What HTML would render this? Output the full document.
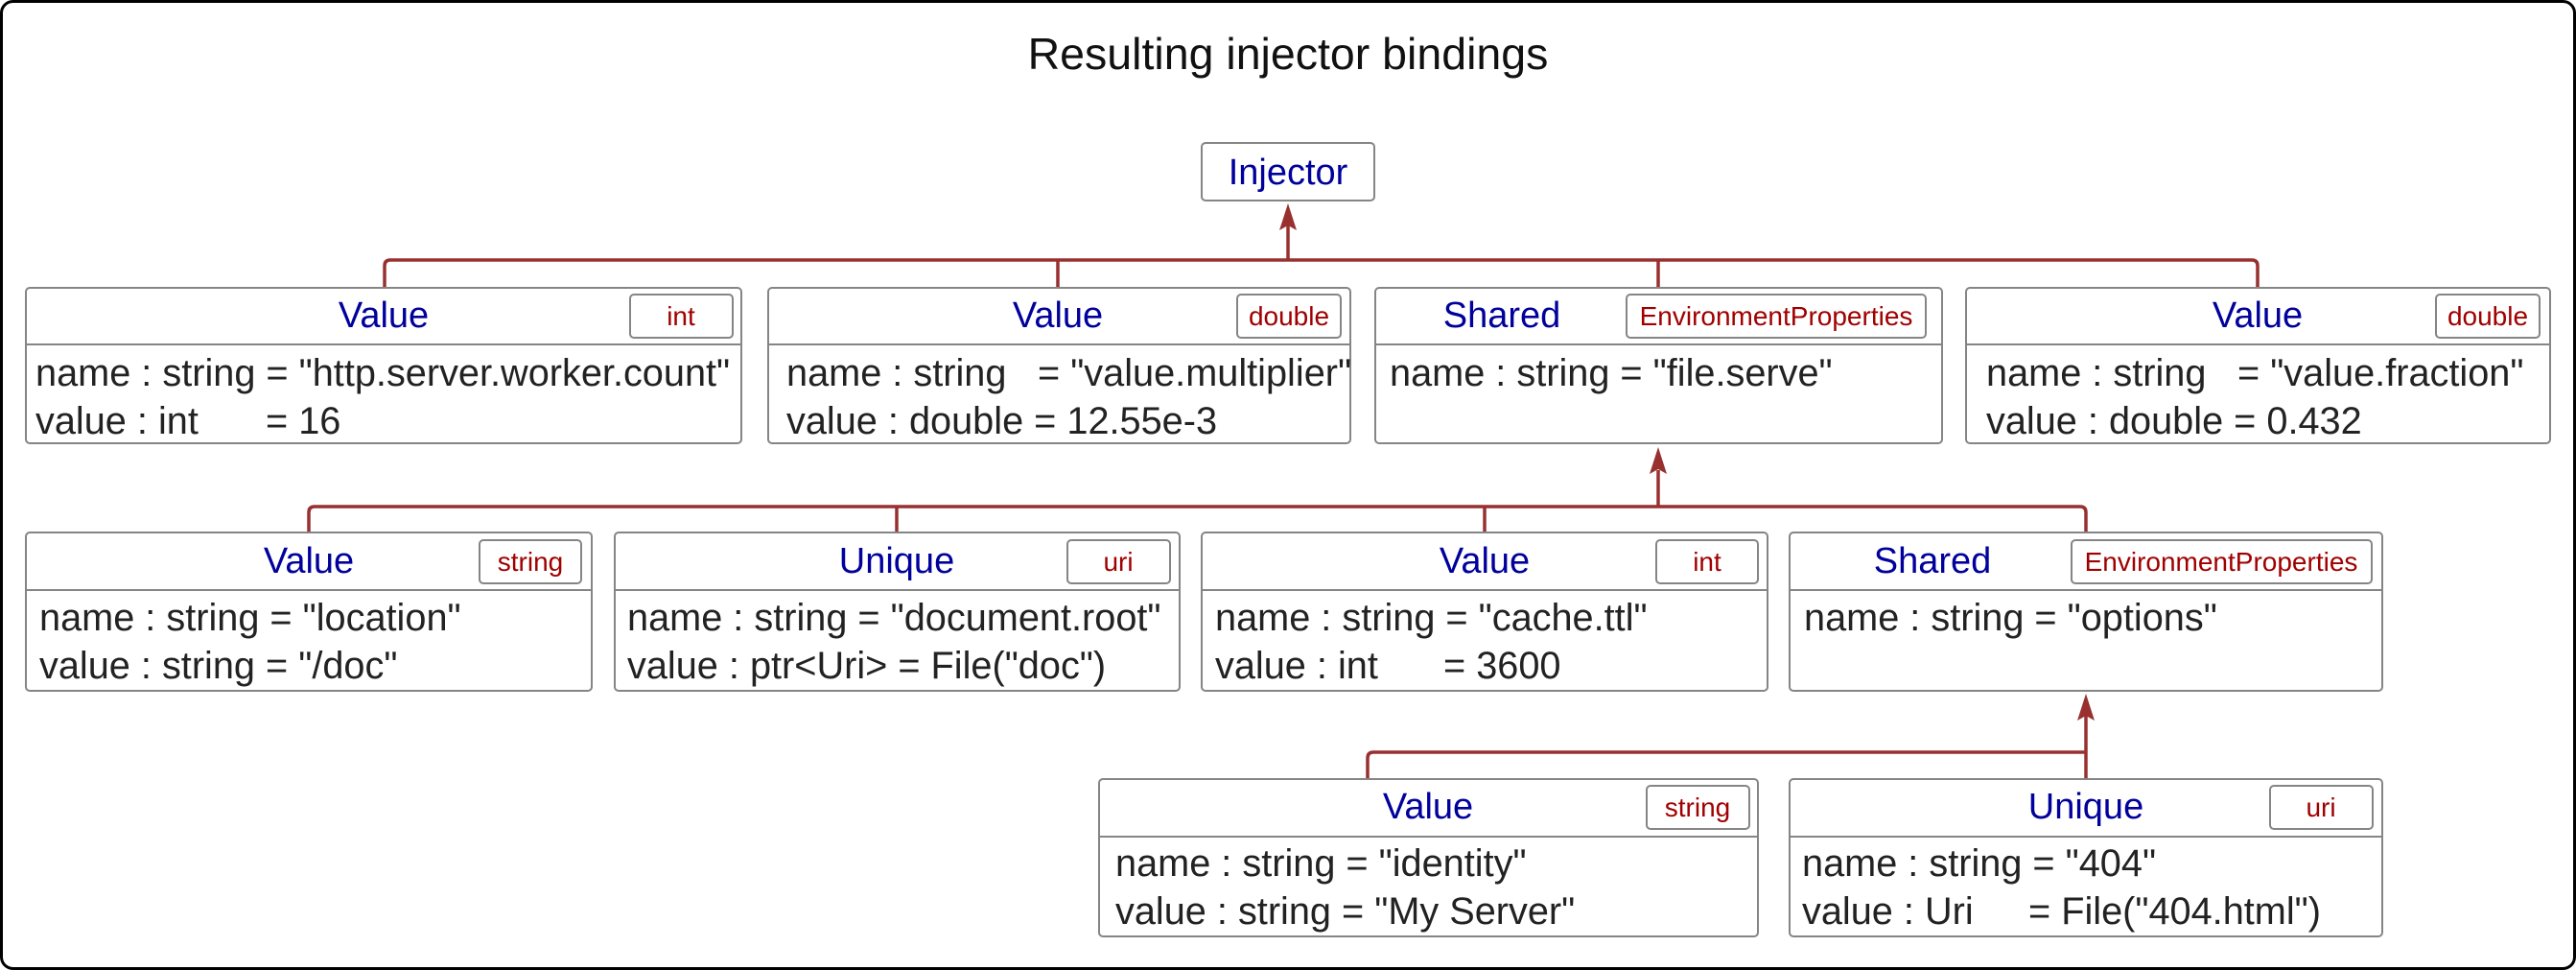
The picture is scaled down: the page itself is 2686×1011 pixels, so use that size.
<!DOCTYPE html>
<html><head><meta charset="utf-8"><style>
html,body{margin:0;padding:0;background:#fff;}
svg{display:block;}
text{font-family:"Liberation Sans",sans-serif;white-space:pre;}
.t{font-size:38px;fill:#00009c;text-anchor:middle;}
.g{font-size:28px;fill:#a00000;text-anchor:middle;}
.a{font-size:39.7px;fill:#222;}
.b{fill:#fff;stroke:#858585;stroke-width:2;}
.c{fill:none;stroke:#993030;stroke-width:3.5;}
</style></head><body>
<svg width="2686" height="1011" viewBox="0 0 2686 1011" xmlns="http://www.w3.org/2000/svg">
<rect x="1.5" y="1.5" width="2683" height="1008" rx="12" fill="#fff" stroke="#000" stroke-width="3"/>
<text x="1343" y="72" style="font-size:46.5px;fill:#111;text-anchor:middle">Resulting injector bindings</text>

<path class="c" d="M401 300 V277 Q401 271 407 271 H2348 Q2354 271 2354 277 V300 M1103 300 V271 M1729 300 V271 M1343 271 V235"/>
<polygon points="1343,212 1334,240 1343,235 1352,240" fill="#993030"/>
<path class="c" d="M322 555 V534 Q322 528 328 528 H2169 Q2175 528 2175 534 V555 M935 555 V528 M1548 555 V528 M1729 528 V490"/>
<polygon points="1729,466 1720,494 1729,489 1738,494" fill="#993030"/>
<path class="c" d="M1426 812 V790 Q1426 784 1432 784 H2175 M2175 812 V746"/>
<polygon points="2175,723 2166,751 2175,746 2184,751" fill="#993030"/>

<rect class="b" x="1253" y="149" width="180" height="60" rx="4"/>
<text class="t" x="1343" y="192">Injector</text>

<rect class="b" x="27" y="300" width="746" height="162" rx="4"/>
<line x1="27" y1="359" x2="773" y2="359" stroke="#858585" stroke-width="2"/>
<rect class="b" x="657" y="307" width="107" height="45" rx="4"/>
<text class="t" x="400" y="341">Value</text><text class="g" x="710" y="339">int</text>
<text class="a" x="37" y="402">name : string = "http.server.worker.count"</text>
<text class="a" x="37" y="452">value : int</text><text class="a" x="277" y="452">= 16</text>

<rect class="b" x="801" y="300" width="607" height="162" rx="4"/>
<line x1="801" y1="359" x2="1408" y2="359" stroke="#858585" stroke-width="2"/>
<rect class="b" x="1290" y="307" width="108" height="45" rx="4"/>
<text class="t" x="1103" y="341">Value</text><text class="g" x="1344" y="339">double</text>
<text class="a" x="820" y="402">name : string</text><text class="a" x="1082" y="402">= "value.multiplier"</text>
<text class="a" x="820" y="452">value : double = 12.55e-3</text>

<rect class="b" x="1434" y="300" width="591" height="162" rx="4"/>
<line x1="1434" y1="359" x2="2025" y2="359" stroke="#858585" stroke-width="2"/>
<rect class="b" x="1696" y="307" width="312" height="45" rx="4"/>
<text class="t" x="1566" y="341">Shared</text><text class="g" x="1852" y="339">EnvironmentProperties</text>
<text class="a" x="1449" y="402">name : string = "file.serve"</text>

<rect class="b" x="2050" y="300" width="609" height="162" rx="4"/>
<line x1="2050" y1="359" x2="2659" y2="359" stroke="#858585" stroke-width="2"/>
<rect class="b" x="2540" y="307" width="108" height="45" rx="4"/>
<text class="t" x="2354" y="341">Value</text><text class="g" x="2594" y="339">double</text>
<text class="a" x="2071" y="402">name : string</text><text class="a" x="2333" y="402">= "value.fraction"</text>
<text class="a" x="2071" y="452">value : double = 0.432</text>

<rect class="b" x="27" y="555" width="590" height="165" rx="4"/>
<line x1="27" y1="615" x2="617" y2="615" stroke="#858585" stroke-width="2"/>
<rect class="b" x="500" y="563" width="106" height="45" rx="4"/>
<text class="t" x="322" y="597">Value</text><text class="g" x="553" y="595">string</text>
<text class="a" x="41" y="657">name : string = "location"</text>
<text class="a" x="41" y="707">value : string = "/doc"</text>

<rect class="b" x="641" y="555" width="589" height="165" rx="4"/>
<line x1="641" y1="615" x2="1230" y2="615" stroke="#858585" stroke-width="2"/>
<rect class="b" x="1113" y="563" width="107" height="45" rx="4"/>
<text class="t" x="935" y="597">Unique</text><text class="g" x="1166" y="595">uri</text>
<text class="a" x="654" y="657">name : string = "document.root"</text>
<text class="a" x="654" y="707">value : ptr&lt;Uri&gt; = File("doc")</text>

<rect class="b" x="1253" y="555" width="590" height="165" rx="4"/>
<line x1="1253" y1="615" x2="1843" y2="615" stroke="#858585" stroke-width="2"/>
<rect class="b" x="1727" y="563" width="106" height="45" rx="4"/>
<text class="t" x="1548" y="597">Value</text><text class="g" x="1780" y="595">int</text>
<text class="a" x="1267" y="657">name : string = "cache.ttl"</text>
<text class="a" x="1267" y="707">value : int</text><text class="a" x="1505" y="707">= 3600</text>

<rect class="b" x="1866" y="555" width="618" height="165" rx="4"/>
<line x1="1866" y1="615" x2="2484" y2="615" stroke="#858585" stroke-width="2"/>
<rect class="b" x="2160" y="563" width="313" height="45" rx="4"/>
<text class="t" x="2015" y="597">Shared</text><text class="g" x="2316" y="595">EnvironmentProperties</text>
<text class="a" x="1881" y="657">name : string = "options"</text>

<rect class="b" x="1146" y="812" width="687" height="164" rx="4"/>
<line x1="1146" y1="872" x2="1833" y2="872" stroke="#858585" stroke-width="2"/>
<rect class="b" x="1717" y="819" width="107" height="45" rx="4"/>
<text class="t" x="1489" y="853">Value</text><text class="g" x="1770" y="851">string</text>
<text class="a" x="1163" y="913">name : string = "identity"</text>
<text class="a" x="1163" y="963">value : string = "My Server"</text>

<rect class="b" x="1866" y="812" width="618" height="164" rx="4"/>
<line x1="1866" y1="872" x2="2484" y2="872" stroke="#858585" stroke-width="2"/>
<rect class="b" x="2367" y="819" width="107" height="45" rx="4"/>
<text class="t" x="2175" y="853">Unique</text><text class="g" x="2420" y="851">uri</text>
<text class="a" x="1879" y="913">name : string = "404"</text>
<text class="a" x="1879" y="963">value : Uri</text><text class="a" x="2115" y="963">= File("404.html")</text>
</svg>
</body></html>
